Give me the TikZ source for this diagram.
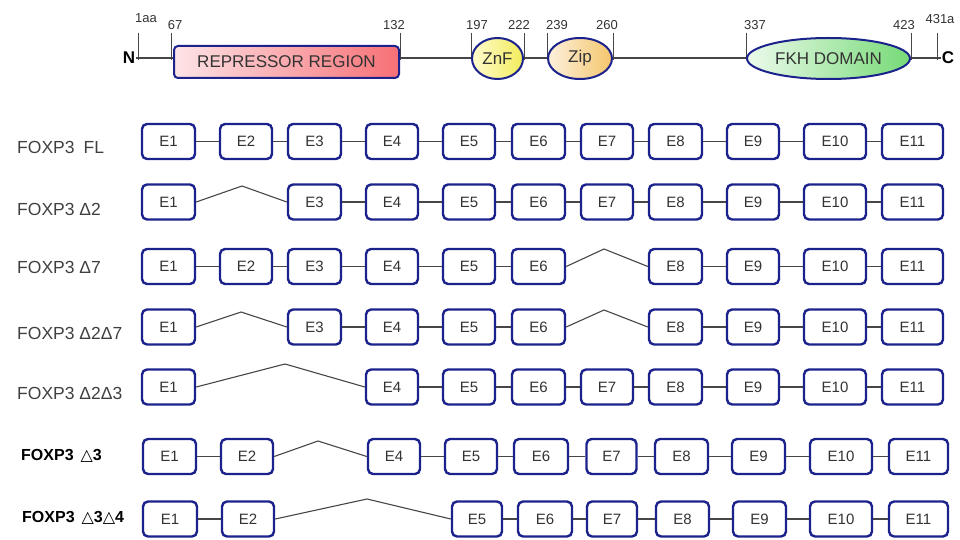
\documentclass[tikz,border=0pt]{standalone}
\usepackage{fontspec}
\setmainfont{Liberation Sans}
\newfontfamily\trifont{DejaVu Sans}
\usepackage{tikz}
\usetikzlibrary{calc,positioning,shapes}

\definecolor{exonblue}{RGB}{28,34,140}
\definecolor{linegray}{RGB}{70,70,70}
\definecolor{reprleft}{RGB}{253,228,230}
\definecolor{reprright}{RGB}{246,112,118}
\definecolor{znfleft}{RGB}{255,251,205}
\definecolor{znfright}{RGB}{242,236,92}
\definecolor{zipleft}{RGB}{252,240,220}
\definecolor{zipright}{RGB}{245,198,108}
\definecolor{fkhleft}{RGB}{236,250,236}
\definecolor{fkhright}{RGB}{118,218,118}

\tikzset{
  exon/.style={draw=exonblue, line width=2.4pt, rounded corners=5pt, fill=white,
    minimum height=35pt, inner sep=0pt, text height=10.5pt, text depth=0pt,
    text=black!80, font=\fontsize{15}{15}\selectfont},
  protregion/.style={draw=exonblue, line width=2pt, inner sep=0pt, text=black!80,
    font=\fontsize{17}{17}\selectfont},
  link/.style={linegray, line width=1.1pt},
  tickline/.style={linegray, line width=0.8pt},
  ticklabel/.style={text=black!80, inner sep=0pt, font=\fontsize{13}{13}\selectfont},
  rowlabel/.style={anchor=west, inner sep=0pt, text=black!75, font=\fontsize{17.5}{17.5}\selectfont},
  boldlabel/.style={anchor=west, inner sep=0pt, text=black, font=\fontsize{16}{16}\selectfont\bfseries},
}

\begin{document}
\begin{tikzpicture}[x=1pt,y=-1pt]
\useasboundingbox (0,0) rectangle (960,540);

% protein
\node[inner sep=1pt, font=\fontsize{17}{17}\selectfont\bfseries] (nterm) at (129,58) {N};
\node[inner sep=1pt, font=\fontsize{17}{17}\selectfont\bfseries] (cterm) at (948,58) {C};
\draw[link] (nterm.east) -- (cterm.west);
\foreach \x/\lx/\ly/\lab in {138/146/18/1aa, 171/175/25/67, 400/394/25/132, 471/477/25/197,
    524/519/25/222, 547/557/25/239, 613/607/25/260, 746/755/25/337, 911/904/25/423, 937/940/19/431a}{
  \draw[tickline] (\x,33) -- (\x,60);
  \node[ticklabel] (t\lab) at (\lx,\ly) {\lab};
}
\node[protregion, rounded corners=4pt, minimum width=225pt, minimum height=32pt,
  left color=reprleft, right color=reprright] (repr) at (286.5,62) {REPRESSOR REGION};
\node[protregion, ellipse, minimum width=51pt, minimum height=41pt,
  left color=znfleft, right color=znfright] (znf) at (497.5,58.5) {ZnF};
\node[protregion, ellipse, minimum width=64pt, minimum height=41pt,
  left color=zipleft, right color=zipright] (zip) at (580,58.5) {Zip};
\node[protregion, ellipse, minimum width=163pt, minimum height=41pt,
  left color=fkhleft, right color=fkhright] (fkh) at (828.5,58.5) {FKH DOMAIN};

% isoforms
\node[rowlabel] (l1) at (17,147) {FOXP3\hspace{9pt}FL};
\node[rowlabel] (l2) at (17,209) {FOXP3 Δ2};
\node[rowlabel] (l3) at (17,267) {FOXP3 Δ7};
\node[rowlabel] (l4) at (17,333) {FOXP3 Δ2Δ7};
\node[rowlabel] (l5) at (17,393) {FOXP3 Δ2Δ3};
\node[boldlabel] (l6) at (21,456) {FOXP3\hspace{7pt}{\trifont\mdseries △}3};
\node[boldlabel] (l7) at (22,518) {FOXP3\hspace{7pt}{\trifont\mdseries △}3{\trifont\mdseries △}4};

% FL
\foreach \n/\x/\w in {1/168.5/53, 2/246/52, 3/314.5/53, 4/392/52, 5/469/52, 6/538.5/53,
    7/607/52, 8/675.5/53, 9/753/52, 10/835/62, 11/912.5/61}
  \node[exon, minimum width=\w pt] (a\n) at (\x,141.5) {E\n};
\foreach \p/\q in {1/2,2/3,3/4,4/5,5/6,6/7,7/8,8/9,9/10,10/11}
  \draw[link] (a\p) -- (a\q);

% delta 2
\foreach \n/\x/\w in {1/168.5/53, 3/314.5/53, 4/392/52, 5/469/52, 6/538.5/53,
    7/607/52, 8/675.5/53, 9/753/52, 10/835/62, 11/912.5/61}
  \node[exon, minimum width=\w pt] (b\n) at (\x,202) {E\n};
\foreach \p/\q in {3/4,4/5,5/6,6/7,7/8,8/9,9/10,10/11}
  \draw[link] (b\p) -- (b\q);
\coordinate (bk1) at (242,186);
\draw[link] (b1.east) -- (bk1) -- (b3.west);

% delta 7
\foreach \n/\x/\w in {1/168.5/53, 2/246/52, 3/314.5/53, 4/392/52, 5/469/52, 6/538.5/53,
    8/675.5/53, 9/753/52, 10/835/62, 11/912.5/61}
  \node[exon, minimum width=\w pt] (c\n) at (\x,266.5) {E\n};
\foreach \p/\q in {1/2,2/3,3/4,4/5,5/6,8/9,9/10,10/11}
  \draw[link] (c\p) -- (c\q);
\coordinate (ck1) at (604,249);
\draw[link] (c6.east) -- (ck1) -- (c8.west);

% delta 2 delta 7
\foreach \n/\x/\w in {1/168.5/53, 3/314.5/53, 4/392/52, 5/469/52, 6/538.5/53,
    8/675.5/53, 9/753/52, 10/835/62, 11/912.5/61}
  \node[exon, minimum width=\w pt] (d\n) at (\x,327) {E\n};
\foreach \p/\q in {3/4,4/5,5/6,8/9,9/10,10/11}
  \draw[link] (d\p) -- (d\q);
\coordinate (dk1) at (241,312);
\coordinate (dk2) at (604,310);
\draw[link] (d1.east) -- (dk1) -- (d3.west);
\draw[link] (d6.east) -- (dk2) -- (d8.west);

% delta 2 delta 3
\foreach \n/\x/\w in {1/168.5/53, 4/392/52, 5/469/52, 6/538.5/53,
    7/607/52, 8/675.5/53, 9/753/52, 10/835/62, 11/912.5/61}
  \node[exon, minimum width=\w pt] (e\n) at (\x,387) {E\n};
\foreach \p/\q in {4/5,5/6,6/7,7/8,8/9,9/10,10/11}
  \draw[link] (e\p) -- (e\q);
\coordinate (ek1) at (285,364);
\draw[link] (e1.east) -- (ek1) -- (e4.west);

% delta 3
\foreach \n/\x/\w in {1/169.5/53, 2/247/52, 4/394/52, 5/471/52, 6/541/54,
    7/611.5/50, 8/681.5/53, 9/758.5/53, 10/841/62, 11/918.5/59}
  \node[exon, minimum width=\w pt] (f\n) at (\x,456.5) {E\n};
\foreach \p/\q in {1/2,4/5,5/6,6/7,7/8,8/9,9/10,10/11}
  \draw[link] (f\p) -- (f\q);
\coordinate (fk1) at (318,441);
\draw[link] (f2.east) -- (fk1) -- (f4.west);

% delta 3 delta 4
\foreach \n/\x/\w in {1/170/54, 2/248/52, 5/477/50, 6/545/54,
    7/612/50, 8/682.5/53, 9/759.5/53, 10/841/62, 11/918.5/59}
  \node[exon, minimum width=\w pt] (g\n) at (\x,519) {E\n};
\foreach \p/\q in {1/2,5/6,6/7,7/8,8/9,9/10,10/11}
  \draw[link] (g\p) -- (g\q);
\coordinate (gk1) at (367,499);
\draw[link] (g2.east) -- (gk1) -- (g5.west);

\end{tikzpicture}
\end{document}
